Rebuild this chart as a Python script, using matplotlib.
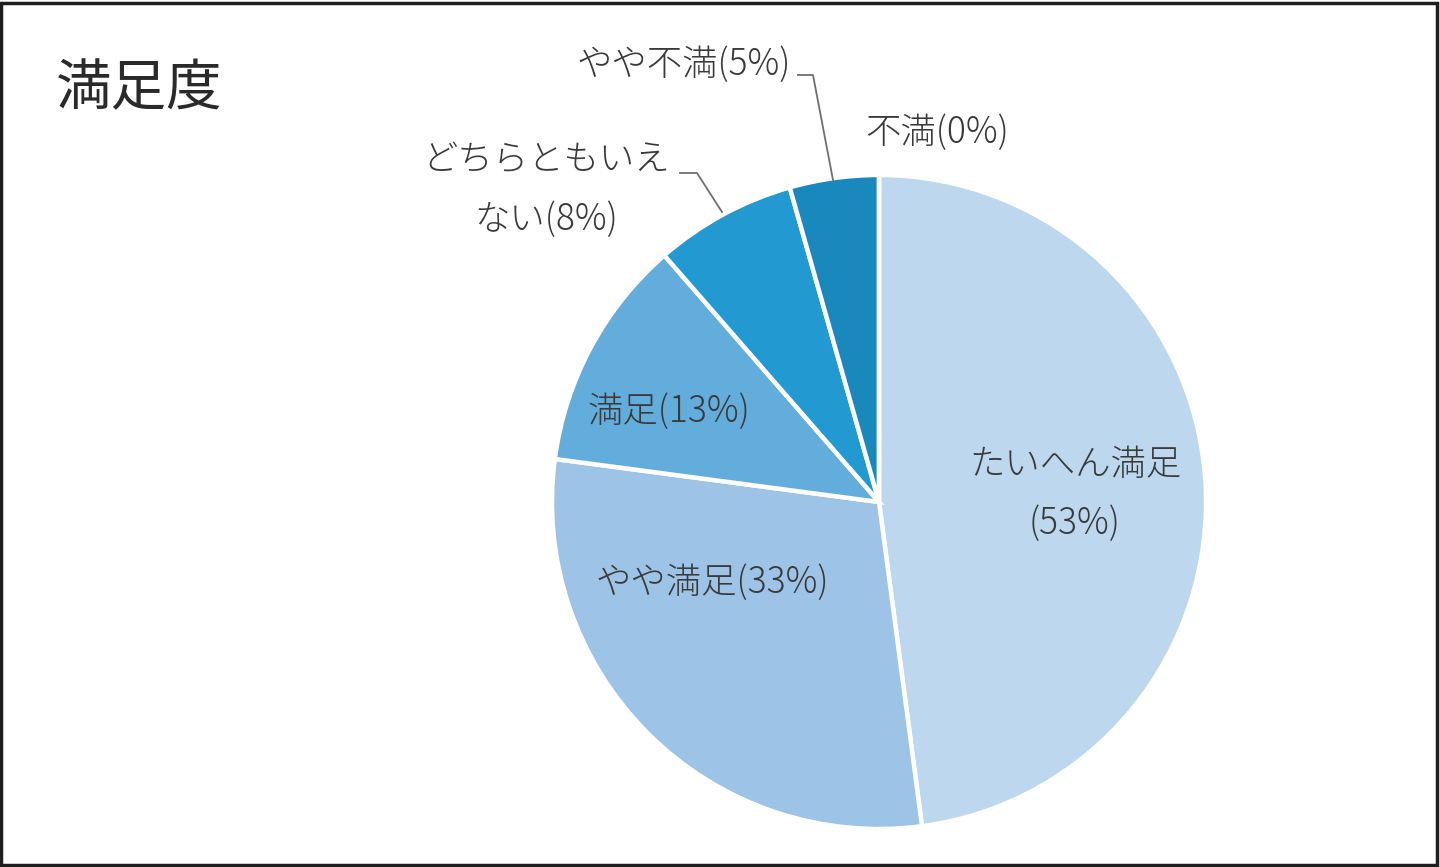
import matplotlib
matplotlib.use("Agg")
import matplotlib.pyplot as plt
from matplotlib.patches import Rectangle

plt.rcParams["font.family"] = ["Noto Sans CJK JP", "DejaVu Sans"]

# slice sizes as drawn (percent of circle), clockwise from 12 o'clock
categories = ["たいへん満足", "やや満足", "満足", "どちらともいえない", "やや不満", "不満"]
shares = [47.9, 29.2, 11.5, 7.0, 4.4, 0.0]
# percentages printed in the labels
label_pct = [53, 33, 13, 8, 5, 0]
colors = ["#BDD7EE", "#9DC3E6", "#62ADDC", "#229AD1", "#1888BD", "#0F6FA0"]

W, H = 1440, 867
fig = plt.figure(figsize=(W / 100, H / 100), dpi=100)
ax = fig.add_axes([0, 0, 1, 1])
ax.set_xlim(0, W)
ax.set_ylim(0, H)
ax.set_aspect("equal")
ax.axis("off")

cx, cy, r = 879, H - 502, 327
ax.pie(shares, colors=colors, startangle=90, counterclock=False,
       center=(cx, cy), radius=r,
       wedgeprops=dict(edgecolor="white", linewidth=3.2))
ax.set_xlim(0, W)
ax.set_ylim(0, H)

txt = dict(color="#3a3a3a", fontsize=25.5, fontweight="light",
           ha="center", va="center")

ax.text(139, H - 90, "満足度", color="#2a2a2a", fontsize=40,
        ha="center", va="center")

ax.text(1075, H - 465, categories[0], **txt)
ax.text(1075, H - 524, f"({label_pct[0]}%)", **txt)
ax.text(712, H - 583, f"{categories[1]}({label_pct[1]}%)", **txt)
ax.text(669, H - 412, f"{categories[2]}({label_pct[2]}%)", **txt)
ax.text(546, H - 160, "どちらともいえ", **txt)
ax.text(546, H - 220, f"ない({label_pct[3]}%)", **txt)
ax.text(684, H - 65, f"{categories[4]}({label_pct[4]}%)", **txt)
ax.text(937, H - 133, f"{categories[5]}({label_pct[5]}%)", **txt)

# leader lines
ax.plot([680, 697, 722], [H - 173, H - 173, H - 212], color="#707070", lw=1.3)
ax.plot([798, 813, 833], [H - 75, H - 75, H - 180], color="#707070", lw=1.3)

fig.patches.append(Rectangle((0.001, 0.002), 0.997, 0.995, transform=fig.transFigure,
                             fill=False, edgecolor="#1e1e1e", linewidth=2.5))

fig.savefig("out.png", dpi=100, facecolor="white")
